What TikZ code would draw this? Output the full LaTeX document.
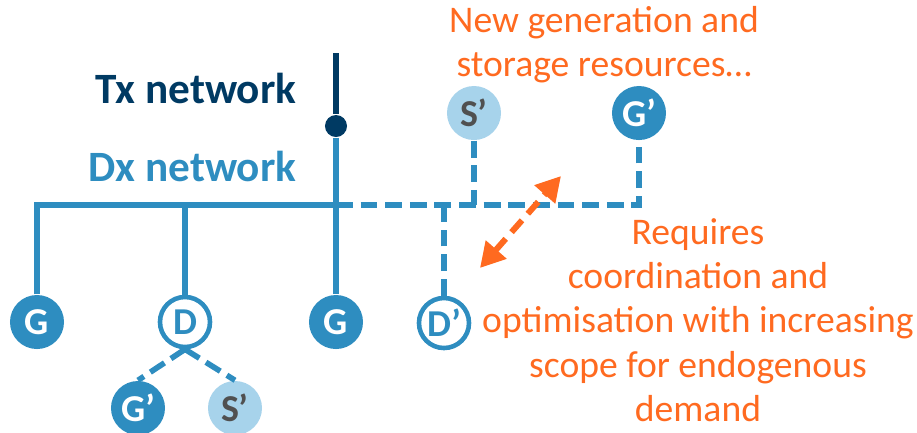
\documentclass[tikz,border=0pt]{standalone}
\usepackage{fontspec}
\setmainfont{Carlito}
\usetikzlibrary{arrows.meta}
\definecolor{dxblue}{RGB}{46,141,192}
\definecolor{txnavy}{RGB}{0,58,99}
\definecolor{stblue}{RGB}{167,211,235}
\definecolor{stgrey}{RGB}{80,80,80}
\definecolor{noteorange}{RGB}{255,106,32}
\begin{document}
\begin{tikzpicture}
	[
	x=0.01cm, y=-0.01cm,
	every node/.style={circle, inner sep=0pt, minimum size=0.54cm, font=\bfseries\fontsize{10.8}{12}\selectfont},
	gen/.style={fill=dxblue, text=white},
	dem/.style={draw=dxblue, line width=1.3pt, fill=white, text=dxblue, minimum size=0.5cm},
	sto/.style={fill=stblue, text=stgrey},
	txdot/.style={fill=txnavy, minimum size=0.22cm},
	netlabel/.style={rectangle, minimum size=0pt, anchor=east, font=\bfseries\fontsize{12.3}{15}\selectfont},
	note/.style={rectangle, minimum size=0pt, align=center, text=noteorange, font=\fontsize{10.7}{12.6}\selectfont},
	link/.style={dxblue, line width=1.6pt},
	newlink/.style={link, dash pattern=on 4.8pt off 2.2pt},
	txlink/.style={txnavy, line width=1.6pt},
	flex/.style={noteorange, line width=1.7pt, dash pattern=on 4.5pt off 2.5pt, {Triangle[length=7pt,width=7.5pt]}-{Triangle[length=7pt,width=7.5pt]}}
	]
		\useasboundingbox (0,0) rectangle (917,432);

		% labels
		\node[netlabel, text=txnavy] (tx) at (297,88) {Tx network};
		\node[netlabel, text=dxblue] (dx) at (297,166) {Dx network};
		\node[note] (newres) at (604,45) {New generation and\\storage resources…};
		\node[note] (coord) at (698,320) {Requires\\coordination and\\optimisation with increasing\\scope for endogenous\\demand};

		% existing resources
		\node[gen] (g1) at (37,322) {G};
		\node[dem] (d1) at (185,322) {D};
		\node[gen] (g2) at (336,322) {G};

		% new resources
		\node[dem] (d2) at (444,323) {D’};
		\node[sto] (s1) at (474,113) {S’};
		\node[gen] (g3) at (639,113) {G’};
		\node[gen] (g4) at (138,408) {G’};
		\node[sto] (s2) at (235,408) {S’};

		% bus
		\coordinate (txtop) at (336,53);
		\node[txdot] (tdot) at (336,126) {};
		\coordinate (bl) at (37,205);
		\coordinate (bd) at (185,205);
		\coordinate (bg) at (336,205);
		\coordinate (bdp) at (444,205);
		\coordinate (bs) at (474,205);

		% drawing code
		\draw[txlink] (txtop) -- (tdot);
		\draw[link] (g1) -- (bl) -- (bg);
		\foreach \from/\to in {d1/bd,tdot/g2} \draw[link] (\from) -- (\to);
		\draw[newlink] (bg) -| (g3);
		\foreach \from/\to in {s1/bs,d2/bdp} \draw[newlink] (\from) -- (\to);
		\foreach \to in {g4,s2} \draw[newlink] (d1.south) -- (\to.north);

		% coordination arrow
		\coordinate (a1) at (480,268);
		\coordinate (a2) at (561,176);
		\draw[flex] (a1) -- (a2);
	\end{tikzpicture}
\end{document}
